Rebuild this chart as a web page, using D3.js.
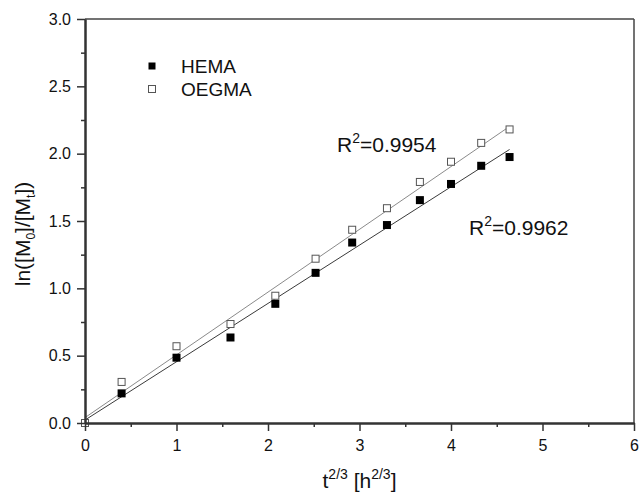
<!DOCTYPE html>
<html><head><meta charset="utf-8">
<script src="https://cdn.jsdelivr.net/npm/d3@7"></script>
<style>
html,body{margin:0;padding:0;background:#fff;}
svg text{font-family:"Liberation Sans",Arial,sans-serif;fill:#111;}
</style></head>
<body><svg id="chart" width="639" height="492"></svg>
<script>
// data
const xValues = [0, 0.40, 1.00, 1.59, 2.08, 2.52, 2.92, 3.30, 3.66, 4.00, 4.33, 4.64];
const hemaValues = [0, 0.22, 0.485, 0.635, 0.885, 1.115, 1.34, 1.47, 1.655, 1.775, 1.91, 1.975];
const oegmaValues = [0, 0.305, 0.57, 0.735, 0.945, 1.22, 1.435, 1.595, 1.79, 1.94, 2.08, 2.18];
const seriesNames = ["HEMA", "OEGMA"];
const fitIntercepts = [0.022, 0.040];
const fitSlopes = [0.433, 0.466];
const fitRange = [0, 4.64];
const r2Labels = ["0.9962", "0.9954"];
const xTicks = [0, 1, 2, 3, 4, 5, 6];
const yTicks = [0, 0.5, 1.0, 1.5, 2.0, 2.5, 3.0];

const svg = d3.select("#chart");
const margin = {left: 85, right: 5, top: 19, bottom: 69};
const W = 639, H = 492;
const x = d3.scaleLinear().domain([0, 6]).range([margin.left, W - margin.right]);
const y = d3.scaleLinear().domain([0, 3]).range([H - margin.bottom, margin.top]);

// fit lines
const lineColors = ["#3a3a3a", "#8a8a8a"];
const line = d3.line().x(d => x(d[0])).y(d => y(d[1]));
[0, 1].forEach(i => {
  const pts = fitRange.map(v => [v, fitIntercepts[i] + fitSlopes[i] * v]);
  svg.append("path").attr("d", line(pts)).attr("fill", "none")
    .attr("stroke", lineColors[i]).attr("stroke-width", 1);
});

// markers
const ms = 8;
svg.append("g").selectAll("rect").data(xValues.map((v, i) => [v, hemaValues[i]]))
  .join("rect").attr("x", d => x(d[0]) - ms / 2).attr("y", d => y(d[1]) - ms / 2)
  .attr("width", ms).attr("height", ms).attr("fill", "#000");
svg.append("g").selectAll("rect").data(xValues.map((v, i) => [v, oegmaValues[i]]))
  .join("rect").attr("x", d => x(d[0]) - ms / 2 + 0.5).attr("y", d => y(d[1]) - ms / 2 + 0.5)
  .attr("width", ms - 1).attr("height", ms - 1).attr("fill", "#fff")
  .attr("stroke", "#555").attr("stroke-width", 1);

// frame top/right
svg.append("line").attr("x1", x(0)).attr("x2", x(6)).attr("y1", y(3)).attr("y2", y(3))
  .attr("stroke", "#444").attr("stroke-width", 1.5);
svg.append("line").attr("x1", x(6)).attr("x2", x(6)).attr("y1", y(3)).attr("y2", y(0))
  .attr("stroke", "#444").attr("stroke-width", 1.5);

// axes
function styleAxis(g) {
  g.selectAll(".domain").attr("stroke", "#333").attr("stroke-width", 2);
  g.selectAll(".tick line").attr("stroke", "#333").attr("stroke-width", 1.5);
  g.selectAll("text").attr("font-size", 16).attr("font-family", "Liberation Sans, Arial, sans-serif").attr("fill", "#111");
}
const minorX = d3.range(0.5, 6, 1);
const minorY = d3.range(0.25, 3, 0.5);
svg.append("g").attr("transform", `translate(0,${y(0)})`)
  .call(d3.axisBottom(x).tickValues(minorX).tickSize(4).tickFormat("").tickSizeOuter(0))
  .call(styleAxis);
svg.append("g").attr("transform", `translate(${x(0)},0)`)
  .call(d3.axisLeft(y).tickValues(minorY).tickSize(4).tickFormat("").tickSizeOuter(0))
  .call(styleAxis);
const gx = svg.append("g").attr("transform", `translate(0,${y(0)})`)
  .call(d3.axisBottom(x).tickValues(xTicks).tickSize(8).tickPadding(9).tickFormat(d3.format("d")).tickSizeOuter(0))
  .call(styleAxis);
const gy = svg.append("g").attr("transform", `translate(${x(0)},0)`)
  .call(d3.axisLeft(y).tickValues(yTicks).tickSize(8).tickPadding(6).tickFormat(d3.format(".1f")).tickSizeOuter(0))
  .call(styleAxis);

// axis titles
const xt = svg.append("text").attr("x", x(3)).attr("y", 488).attr("text-anchor", "middle").attr("font-size", 21);
xt.append("tspan").text("t");
xt.append("tspan").attr("dy", -9).attr("font-size", 14).text("2/3");
xt.append("tspan").attr("dy", 9).text(" [h");
xt.append("tspan").attr("dy", -9).attr("font-size", 14).text("2/3");
xt.append("tspan").attr("dy", 9).text("]");

const yt = svg.append("text").attr("transform", `translate(30,234) rotate(-90)`)
  .attr("text-anchor", "middle").attr("font-size", 21);
yt.append("tspan").text("ln([M");
yt.append("tspan").attr("dy", 5).attr("font-size", 12).text("0");
yt.append("tspan").attr("dy", -5).text("]/[M");
yt.append("tspan").attr("dy", 5).attr("font-size", 12).text("t");
yt.append("tspan").attr("dy", -5).text("])");

// legend
const legY = [66, 89];
[0, 1].forEach(i => {
  svg.append("rect").attr("x", 152 - 3.5).attr("y", legY[i] - 3.5).attr("width", 7).attr("height", 7)
    .attr("fill", i === 0 ? "#000" : "#fff").attr("stroke", i === 0 ? "none" : "#555").attr("stroke-width", 1);
  svg.append("text").attr("x", 181).attr("y", legY[i] + 6.5).attr("font-size", 19).text(seriesNames[i]);
});

// R2 labels
const r2Pos = [[469, 235], [337, 152]];
[0, 1].forEach(i => {
  const t = svg.append("text").attr("x", r2Pos[i][0]).attr("y", r2Pos[i][1]).attr("font-size", 21);
  t.append("tspan").text("R");
  t.append("tspan").attr("dy", -9).attr("font-size", 14).text("2");
  t.append("tspan").attr("dy", 9).text("=" + r2Labels[i]);
});
</script></body></html>
